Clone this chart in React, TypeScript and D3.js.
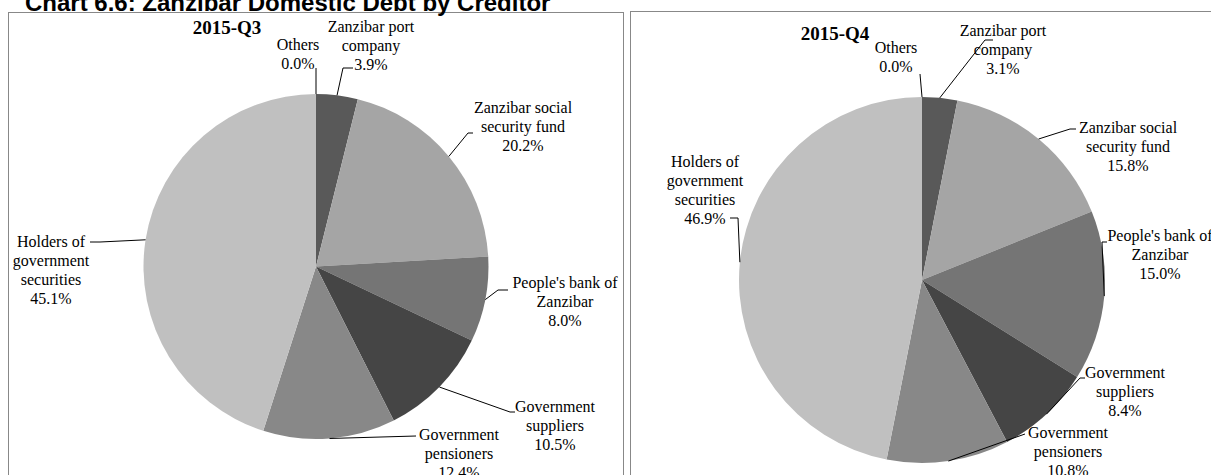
import React from "react";
import * as d3 from "d3";

const categories = [
  "Others",
  "Zanzibar port company",
  "Zanzibar social security fund",
  "People's bank of Zanzibar",
  "Government suppliers",
  "Government pensioners",
  "Holders of government securities",
];
const q3Values = [0.0, 3.9, 20.2, 8.0, 10.5, 12.4, 45.1];
const q4Values = [0.0, 3.1, 15.8, 15.0, 8.4, 10.8, 46.9];
const chartTitle = "Chart 6.6: Zanzibar Domestic Debt by Creditor";
const periods = ["2015-Q3", "2015-Q4"];

const colors = ["#7f7f7f", "#595959", "#a5a5a5", "#757575", "#454545", "#888888", "#c0c0c0"];

const q3Lines = [
  ["Others", "0.0%"],
  ["Zanzibar port", "company", "3.9%"],
  ["Zanzibar social", "security fund", "20.2%"],
  ["People's bank of", "Zanzibar", "8.0%"],
  ["Government", "suppliers", "10.5%"],
  ["Government", "pensioners", "12.4%"],
  ["Holders of", "government", "securities", "45.1%"],
];
const q4Lines = [
  ["Others", "0.0%"],
  ["Zanzibar port", "company", "3.1%"],
  ["Zanzibar social", "security fund", "15.8%"],
  ["People's bank of", "Zanzibar", "15.0%"],
  ["Government", "suppliers", "8.4%"],
  ["Government", "pensioners", "10.8%"],
  ["Holders of", "government", "securities", "46.9%"],
];

// layout: label centre x, first baseline y, leader elbow & end
type Lay = { x: number; y: number; pts: [number, number][] };
const q3Layout: Lay[] = [
  { x: 298, y: 50, pts: [[316, 68]] },
  { x: 371, y: 32, pts: [[343, 68], [353, 68]] },
  { x: 523, y: 113, pts: [[468, 133], [473, 133]] },
  { x: 565, y: 288, pts: [[498, 290], [508, 290]] },
  { x: 555, y: 412, pts: [[510, 412], [515, 412]] },
  { x: 459, y: 440, pts: [[416, 436]] },
  { x: 51, y: 247, pts: [[100, 242], [90, 242]] },
];
const q4Layout: Lay[] = [
  { x: 896, y: 53, pts: [[920, 74]] },
  { x: 1003, y: 36, pts: [[985, 40], [993, 40]] },
  { x: 1128, y: 133, pts: [[1070, 129], [1076, 129]] },
  { x: 1160, y: 241, pts: [[1102, 242], [1107, 242]] },
  { x: 1125, y: 378, pts: [[1080, 378], [1085, 378]] },
  { x: 1068, y: 438, pts: [[1025, 434]] },
  { x: 705, y: 167, pts: [[738, 218], [730, 218]] },
];

const serif = "'Liberation Serif', 'Times New Roman', serif";

function Pie({
  values,
  lines,
  layout,
  cx,
  cy,
  r,
  title,
  tx,
  ty,
}: {
  values: number[];
  lines: string[][];
  layout: Lay[];
  cx: number;
  cy: number;
  r: number;
  title: string;
  tx: number;
  ty: number;
}) {
  const pie = d3.pie<number>().sort(null).value((d) => d)(values);
  const arc = d3.arc<d3.PieArcDatum<number>>().innerRadius(0).outerRadius(r);
  const edge = d3.arc<d3.PieArcDatum<number>>().innerRadius(r).outerRadius(r);
  return (
    <g>
      <g transform={`translate(${cx},${cy})`}>
        {pie.map((p, i) => (
          <path key={i} d={arc(p) || ""} fill={colors[i]} />
        ))}
      </g>
      {pie.map((p, i) => {
        const [ex, ey] = edge.centroid(p);
        const pts: [number, number][] = [[cx + ex, cy + ey], ...layout[i].pts];
        return (
          <path
            key={"l" + i}
            d={d3.line()(pts) || ""}
            fill="none"
            stroke="#000"
            strokeWidth={1}
          />
        );
      })}
      {lines.map((ls, i) => (
        <text
          key={"t" + i}
          x={layout[i].x}
          y={layout[i].y}
          textAnchor="middle"
          fontFamily={serif}
          fontSize={16}
          fill="#000"
        >
          {ls.map((s, j) => (
            <tspan key={j} x={layout[i].x} dy={j === 0 ? 0 : 19}>
              {s}
            </tspan>
          ))}
        </text>
      ))}
      <text
        x={tx}
        y={ty}
        textAnchor="middle"
        fontFamily={serif}
        fontWeight="bold"
        fontSize={19}
        fill="#000"
      >
        {title}
      </text>
    </g>
  );
}

export default function App() {
  return (
    <svg
      width={1211}
      height={475}
      style={{ position: "absolute", left: 0, top: 0, background: "#fff" }}
    >
      <rect x={0} y={0} width={1211} height={475} fill="#fff" />
      <rect x={8.5} y={12.5} width={615} height={480} fill="#fff" stroke="#888" strokeWidth={1} />
      <rect x={630.5} y={11.5} width={600} height={480} fill="#fff" stroke="#888" strokeWidth={1} />
      <text
        x={25}
        y={11}
        fontFamily="'Liberation Sans', Arial, sans-serif"
        fontWeight="bold"
        fontSize={24}
        fill="#000"
      >
        {chartTitle}
      </text>
      <Pie
        values={q3Values}
        lines={q3Lines}
        layout={q3Layout}
        cx={316}
        cy={266.5}
        r={172.5}
        title={periods[0]}
        tx={227}
        ty={34}
      />
      <Pie
        values={q4Values}
        lines={q4Lines}
        layout={q4Layout}
        cx={922}
        cy={280}
        r={183}
        title={periods[1]}
        tx={835}
        ty={40}
      />
    </svg>
  );
}
